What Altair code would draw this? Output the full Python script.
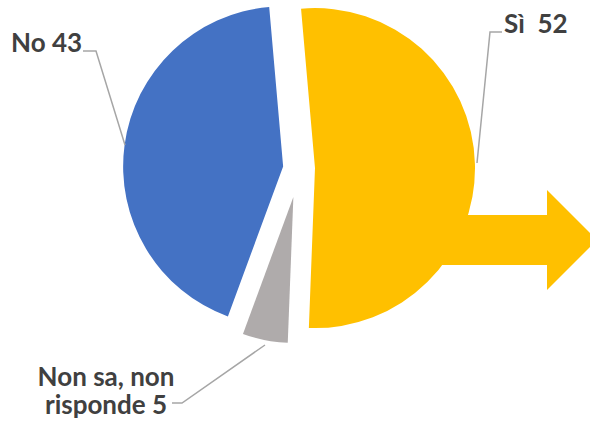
import math
import altair as alt
import pandas as pd

# ---- data ----
categories = ["Sì", "Non sa, non risponde", "No"]
values = [52, 5, 43]
label_texts = ["Sì\u00a0\u00a052", "Non sa, non\nrisponde 5", "No 43"]

# ---- style / layout ----
colors = ["#FFC000", "#AFABAB", "#4472C4"]
explode = [16, 29, 16]
radii = [160, 146, 160]
CX, CY = 299, 168.5
START = -5 * math.pi / 180
TEXT_COLOR = "#404040"
LINE_COLOR = "#A6A6A6"
FONT = "Lato"
FSIZE = 26

slices = pd.DataFrame({
    "category": categories,
    "value": values,
    "color": colors,
    "explode": explode,
    "r": radii,
    "order": list(range(len(categories))),
})

pie = (
    alt.Chart(slices)
    .transform_joinaggregate(total="sum(value)")
    .transform_window(cum="sum(value)", sort=[alt.SortField("order")], frame=[None, 0])
    .transform_calculate(
        t1=f"{START} + datum.cum / datum.total * 2 * PI",
        t0=f"{START} + (datum.cum - datum.value) / datum.total * 2 * PI",
    )
    .transform_calculate(mid="(datum.t0 + datum.t1) / 2")
    .transform_calculate(
        cx=f"{CX} + datum.explode * sin(datum.mid)",
        cy=f"{CY} - datum.explode * cos(datum.mid)",
    )
    .mark_arc(strokeWidth=0)
    .encode(
        theta=alt.Theta("t0:Q", scale=None),
        theta2="t1:Q",
        x=alt.X("cx:Q", scale=None),
        y=alt.Y("cy:Q", scale=None),
        radius=alt.Radius("r:Q", scale=None),
        color=alt.Color("color:N", scale=None),
    )
)

# arrow from the "Sì" slice
dummy = pd.DataFrame({"a": [0]})
shaft = alt.Chart(dummy).mark_rect(color="#FFC000").encode(
    x=alt.value(400), x2=alt.value(548), y=alt.value(215), y2=alt.value(265)
)
head = alt.Chart(dummy).mark_point(
    shape="M0,-1L1,0L0,1Z", size=10000, filled=True, color="#FFC000", opacity=1, strokeWidth=0
).encode(x=alt.value(547), y=alt.value(240))

# labels
label_pos = {
    "Sì": (504, 33, "left"),
    "Non sa, non risponde": (106, 386, "center"),
    "No": (11, 52, "left"),
}
rows = []
for cat, t in zip(categories, label_texts):
    x, y, al = label_pos[cat]
    rows.append({"text": t, "x": x, "y": y, "align": al})
lab_df = pd.DataFrame(rows)


def label_layer(al):
    return alt.Chart(lab_df[lab_df["align"] == al]).mark_text(
        font=FONT, fontSize=FSIZE, fontWeight="bold", color=TEXT_COLOR,
        align=al, baseline="alphabetic", lineBreak="\n", lineHeight=28,
    ).encode(x=alt.X("x:Q", scale=None), y=alt.Y("y:Q", scale=None), text="text:N")


# leader lines
leader_pts = {
    "Sì": [(502, 32), (490, 32), (477, 163)],
    "Non sa, non risponde": [(172, 403), (182, 403), (265, 345)],
    "No": [(83, 51), (96, 51), (125, 145)],
}
lrows = []
for cat in categories:
    for k, (x, y) in enumerate(leader_pts[cat]):
        lrows.append({"category": cat, "k": k, "x": x, "y": y})
leaders = alt.Chart(pd.DataFrame(lrows)).mark_line(color=LINE_COLOR, strokeWidth=1.5).encode(
    x=alt.X("x:Q", scale=None), y=alt.Y("y:Q", scale=None), detail="category:N", order="k:Q"
)

chart = (
    alt.layer(shaft, head, pie, leaders, label_layer("left"), label_layer("center"))
    .properties(width=590, height=427, padding=0, autosize=alt.AutoSizeParams(type="none"), background="white")
    .configure_view(stroke=None)
)

chart.save("out.html", embed_options={"renderer": "svg", "actions": False})
